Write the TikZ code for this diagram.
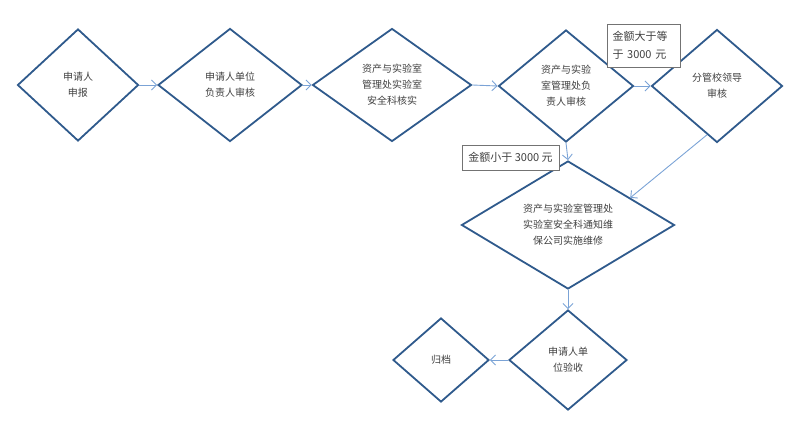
\documentclass[tikz,border=0pt]{standalone}
\usepackage{fontspec}
\setmainfont{Noto Sans CJK SC}
\usetikzlibrary{shapes.geometric,arrows.meta,calc}
\definecolor{dmd}{HTML}{2F5A8C}
\definecolor{arr}{HTML}{7BA3D6}
\definecolor{txt}{HTML}{404040}
\tikzset{
  dia/.style={diamond, draw=dmd, line width=1.8pt, inner sep=0pt},
  lbl/.style={align=center, text=txt, font=\fontsize{10}{16}\selectfont, inner sep=0pt},
  flow/.style={draw=arr, line width=0.9pt, -{Straight Barb[length=5pt,width=10pt]}},
  cond/.style={draw=black!55, line width=0.8pt, fill=white, text=txt, inner sep=0pt, align=left, font=\fontsize{11}{18}\selectfont}
}
\begin{document}
\begin{tikzpicture}[x=1pt,y=-1pt]
\useasboundingbox (0,0) rectangle (798,421);
% diamonds
\node[dia, minimum width=121pt, minimum height=112pt] (d1) at (78,85) {};
\node[dia, minimum width=144pt, minimum height=113pt] (d2) at (230,85) {};
\node[dia, minimum width=159pt, minimum height=113pt] (d3) at (392,85) {};
\node[dia, minimum width=135pt, minimum height=112pt] (d4) at (566,86) {};
\node[dia, minimum width=131pt, minimum height=113pt] (d5) at (717,86) {};
\node[dia, minimum width=213pt, minimum height=128pt] (d6) at (568,225) {};
\node[dia, minimum width=118pt, minimum height=100pt] (d7) at (568,360) {};
\node[dia, minimum width=96pt, minimum height=84pt] (d8) at (441,360) {};
% texts
\node[lbl] (t1) at (78,85) {申请人\\申报};
\node[lbl] (t2) at (230,85) {申请人单位\\负责人审核};
\node[lbl] (t3) at (392,85) {资产与实验室\\管理处实验室\\安全科核实};
\node[lbl] (t4) at (566,86) {资产与实验\\室管理处负\\责人审核};
\node[lbl] (t5) at (717,86) {分管校领导\\审核};
\node[lbl] (t6) at (568,225) {资产与实验室管理处\\实验室安全科通知维\\保公司实施维修};
\node[lbl] (t7) at (568,360) {申请人单\\位验收};
\node[lbl] (t8) at (441,360) {归档};
% connectors
\draw[flow] (d1.east) -- (d2.west);
\draw[flow] (d2.east) -- (d3.west);
\draw[flow] (d3.east) -- (d4.west);
\draw[flow] (d4.east) -- (d5.west);
\draw[flow] (d4.south) -- (d6.north);
\coordinate (s5) at ($(d5.west)!0.85!(d5.south)$);
\coordinate (e6) at ($(d6.north)!0.58!(d6.east)$);
\draw[flow] (s5) -- (e6);
\draw[flow] (d6.south) -- (d7.north);
\draw[flow] (d7.west) -- (d8.east);
% condition boxes
\node[cond, minimum width=73pt, minimum height=43pt, text width=62pt] (c1) at (643.5,45.5) {金额大于等\\于 3000 元};
\node[cond, minimum width=97pt, minimum height=25pt, align=center] (c2) at (510.5,157.5) {金额小于 3000 元};
\end{tikzpicture}
\end{document}
